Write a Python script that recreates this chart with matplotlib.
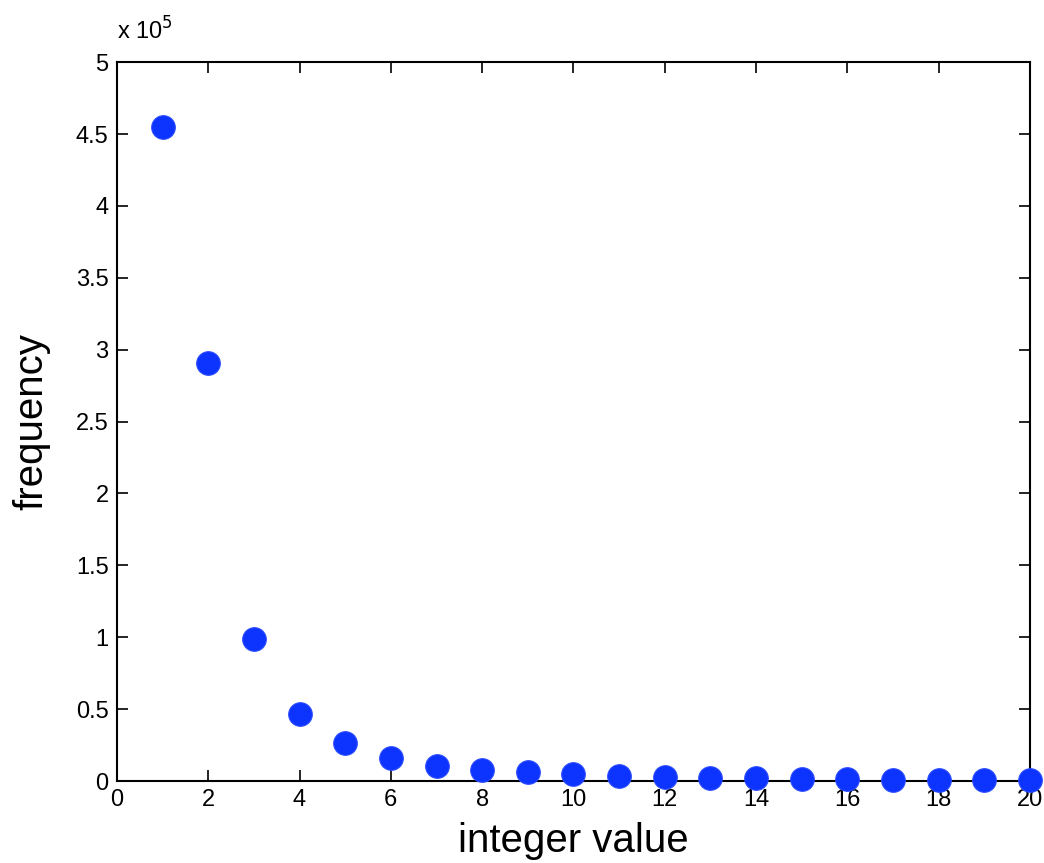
import matplotlib.pyplot as plt
from matplotlib.ticker import FuncFormatter

# integer values and their frequencies (in units of 1e5)
values = list(range(1, 21))
freq = [4.55, 2.91, 0.99, 0.465, 0.262, 0.16, 0.105, 0.075, 0.06, 0.047,
        0.036, 0.03, 0.02, 0.018, 0.015, 0.012, 0.008, 0.006, 0.005, 0.004]

plt.rcParams['font.family'] = ['Liberation Sans', 'DejaVu Sans']

fig = plt.figure(figsize=(10.44, 8.63), dpi=100)
ax = fig.add_axes([0.112, 0.095, 0.8746, 0.833])

ax.plot(values, freq, 'o', color='#0d33ff', markersize=17,
        markeredgecolor='#2a4bff', markeredgewidth=0.8, clip_on=False, zorder=3)

ax.set_xlim(0, 20)
ax.set_ylim(0, 5)
ax.set_xticks(range(0, 21, 2))
ax.set_yticks([i * 0.5 for i in range(11)])
ax.yaxis.set_major_formatter(FuncFormatter(lambda v, p: f'{v:g}'))

ax.tick_params(direction='in', top=True, right=True, length=8, width=1.2,
               labelsize=17, pad=6)
for s in ax.spines.values():
    s.set_linewidth(1.5)

ax.set_xlabel('integer value', fontsize=29, labelpad=8)
ax.set_ylabel('frequency', fontsize=29, labelpad=18)

fig.text(0.112, 0.948, r'x 10$^5$', fontsize=17, ha='left', va='bottom')

fig.savefig('out.png', dpi=100)
